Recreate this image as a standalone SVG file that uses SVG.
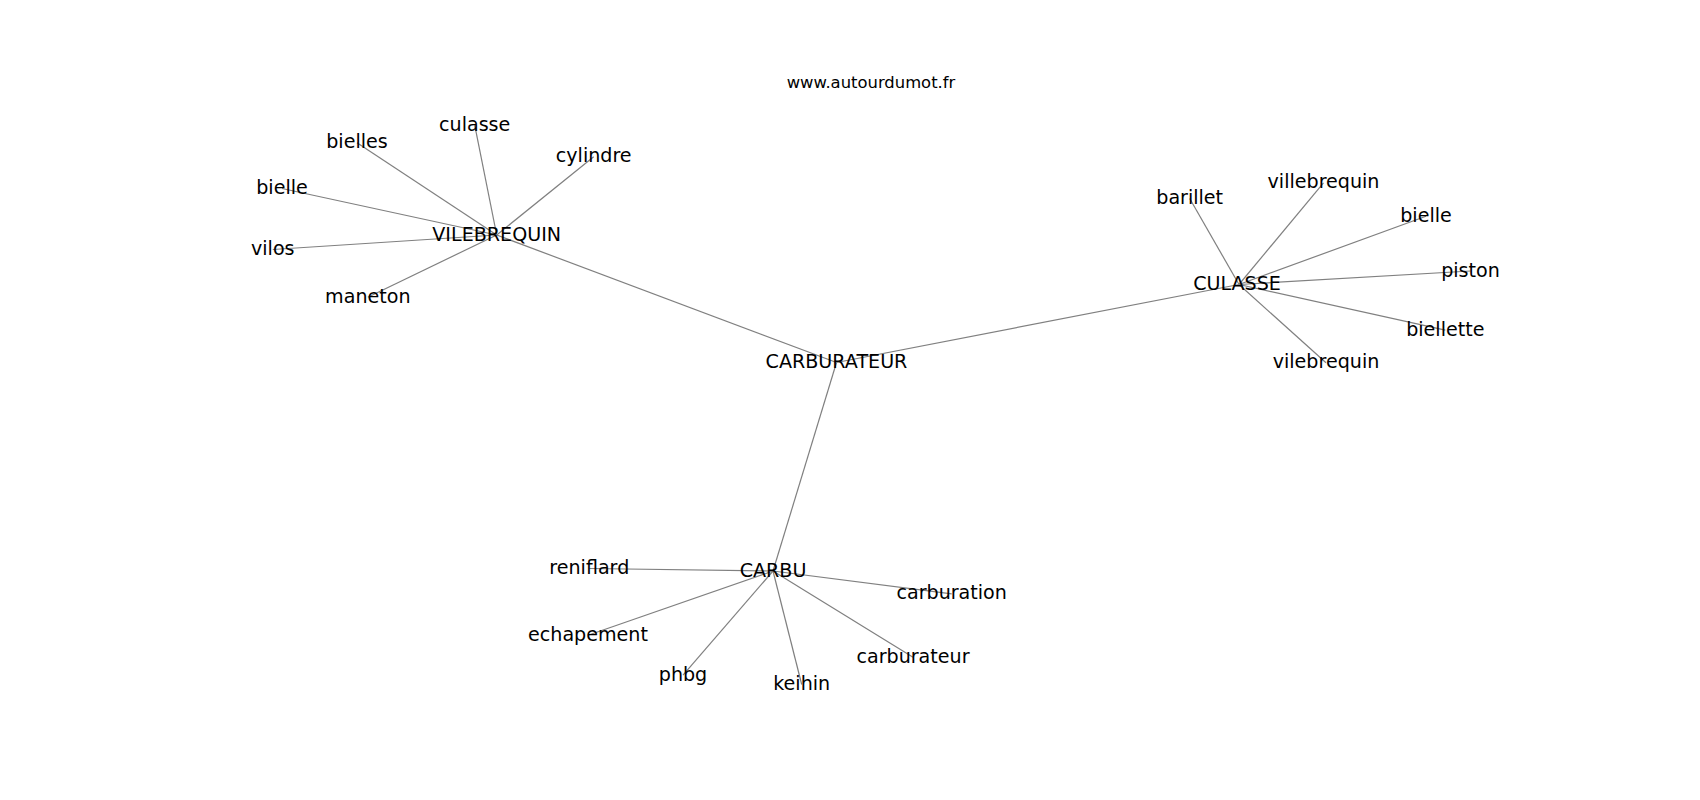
<svg xmlns="http://www.w3.org/2000/svg" width="1700" height="800" viewBox="0 0 1700 800">
<style>
.bg{fill:#ffffff}
.e{stroke:#808080;stroke-width:1.2;fill:none}
text{font-family:"DejaVu Sans","Liberation Sans",sans-serif;fill:#000000;text-anchor:middle}
.n{font-size:19.1px}
.t{font-size:16.4px}
</style>
<rect class="bg" x="0" y="0" width="1700" height="800"/>
<text class="t" x="871" y="88.3">www.autourdumot.fr</text>
<g id="edges">
<line class="e" x1="836.5" y1="362.5" x2="496.7" y2="235"/>
<line class="e" x1="836.5" y1="362.5" x2="1239" y2="284.5"/>
<line class="e" x1="836.5" y1="362.5" x2="773" y2="571"/>
<line class="e" x1="496.7" y1="235" x2="357" y2="142.8"/>
<line class="e" x1="496.7" y1="235" x2="474.7" y2="125.2"/>
<line class="e" x1="496.7" y1="235" x2="593.7" y2="156.8"/>
<line class="e" x1="496.7" y1="235" x2="282" y2="188.5"/>
<line class="e" x1="496.7" y1="235" x2="272.8" y2="249.5"/>
<line class="e" x1="496.7" y1="235" x2="367.8" y2="297.2"/>
<line class="e" x1="1239" y1="284.5" x2="1189.7" y2="198.5"/>
<line class="e" x1="1239" y1="284.5" x2="1323.5" y2="182.8"/>
<line class="e" x1="1239" y1="284.5" x2="1426" y2="216.2"/>
<line class="e" x1="1239" y1="284.5" x2="1470.5" y2="271"/>
<line class="e" x1="1239" y1="284.5" x2="1445.3" y2="330.2"/>
<line class="e" x1="1239" y1="284.5" x2="1326" y2="362.8"/>
<line class="e" x1="773" y1="571" x2="589.3" y2="568.5"/>
<line class="e" x1="773" y1="571" x2="951.7" y2="593.8"/>
<line class="e" x1="773" y1="571" x2="588" y2="635.2"/>
<line class="e" x1="773" y1="571" x2="913" y2="657.2"/>
<line class="e" x1="773" y1="571" x2="683" y2="675.2"/>
<line class="e" x1="773" y1="571" x2="801.7" y2="684.5"/>
</g>
<g id="n-CARBURATEUR"><text class="n" x="836.5" y="368.3">CARBURATEUR</text></g>
<g id="n-VILEBREQUIN"><text class="n" x="496.7" y="240.7">VILEBREQUIN</text></g>
<g id="n-CULASSE"><text class="n" x="1237" y="290">CULASSE</text></g>
<g id="n-CARBU"><text class="n" x="773" y="576.5">CARBU</text></g>
<g id="n-bielles"><text class="n" x="357" y="148.3">bielles</text></g>
<g id="n-culasse"><text class="n" x="474.7" y="130.7">culasse</text></g>
<g id="n-cylindre"><text class="n" x="593.7" y="162.3">cylindre</text></g>
<g id="n-bielle1"><text class="n" x="282" y="194">bielle</text></g>
<g id="n-vilos"><text class="n" x="272.8" y="255">vilos</text></g>
<g id="n-maneton"><text class="n" x="367.8" y="302.7">maneton</text></g>
<g id="n-barillet"><text class="n" x="1189.7" y="204">barillet</text></g>
<g id="n-villebrequin"><text class="n" x="1323.5" y="188.3">villebrequin</text></g>
<g id="n-bielle2"><text class="n" x="1426" y="221.7">bielle</text></g>
<g id="n-piston"><text class="n" x="1470.5" y="276.5">piston</text></g>
<g id="n-biellette"><text class="n" x="1445.3" y="335.7">biellette</text></g>
<g id="n-vilebrequin"><text class="n" x="1326" y="368.3">vilebrequin</text></g>
<g id="n-reniflard"><text class="n" x="589.3" y="574">reniflard</text></g>
<g id="n-carburation"><text class="n" x="951.7" y="599.3">carburation</text></g>
<g id="n-echapement"><text class="n" x="588" y="640.7">echapement</text></g>
<g id="n-carburateur"><text class="n" x="913" y="662.7">carburateur</text></g>
<g id="n-phbg"><text class="n" x="683" y="680.7">phbg</text></g>
<g id="n-keihin"><text class="n" x="801.7" y="690">keihin</text></g>
</svg>
